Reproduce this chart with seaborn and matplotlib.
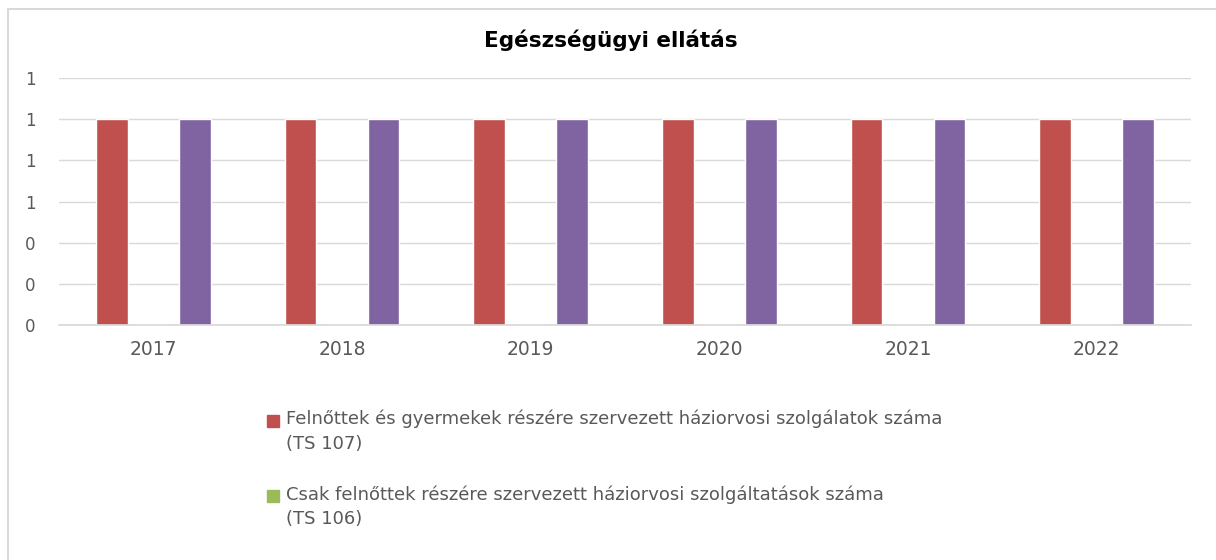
import pandas as pd
import matplotlib.pyplot as plt
import seaborn as sns
from matplotlib.patches import Rectangle
from matplotlib.ticker import FuncFormatter

# chart data
years = ['2017', '2018', '2019', '2020', '2021', '2022']
series_names = [
    'Felnőttek és gyermekek részére szervezett háziorvosi szolgálatok száma\n(TS 107)',
    'Csak felnőttek részére szervezett háziorvosi szolgáltatások száma\n(TS 106)',
    'Gyermekek részére szervezett háziorvosi szolgálatok száma',
]
felnott_gyermek = [1, 1, 1, 1, 1, 1]
csak_felnott = [0, 0, 0, 0, 0, 0]
gyermek = [1, 1, 1, 1, 1, 1]
colors = ['#C0504D', '#9BBB59', '#8064A2']
y_ticks = [0, 0.2, 0.4, 0.6, 0.8, 1.0, 1.2]

# long format for seaborn
data = pd.DataFrame({
    'year': years * 3,
    'series': [series_names[0]] * 6 + [series_names[1]] * 6 + [series_names[2]] * 6,
    'value': felnott_gyermek + csak_felnott + gyermek,
})

sns.set_theme(style='white')
plt.rcParams['font.family'] = ['DejaVu Sans']

fig = plt.figure(figsize=(12.16, 5.6), dpi=100)
ax = fig.add_axes([59 / 1216, 1 - 325 / 560, (1191 - 59) / 1216, (325 - 78) / 560])

sns.barplot(data=data, x='year', y='value', hue='series', palette=colors,
            width=0.66, gap=0.23, dodge=True, legend=False, ax=ax, saturation=1)

ax.set_ylim(0, 1.2)
ax.set_xlim(-0.5, len(years) - 0.5)
ax.set_yticks(y_ticks)
ax.yaxis.set_major_formatter(FuncFormatter(lambda v, p: f'{v:.0f}'))
ax.grid(axis='y', color='#D9D9D9', linewidth=1)
ax.set_axisbelow(True)
for s in ['top', 'right', 'left']:
    ax.spines[s].set_visible(False)
ax.spines['bottom'].set_color('#D9D9D9')
ax.tick_params(axis='y', length=0, pad=17, labelsize=12, labelcolor='#595959')
ax.tick_params(axis='x', length=0, pad=11, labelsize=13.5, labelcolor='#595959')
ax.set_xlabel('')
ax.set_ylabel('')

fig.text(611 / 1216, 1 - 40 / 560, 'Egészségügyi ellátás', ha='center', va='center',
         fontsize=15.5, fontweight='bold', color='black')

# legend (only the first two entries fit in the visible area)
leg_y = [421, 496]
for i in range(2):
    y = 1 - leg_y[i] / 560
    fig.patches.append(Rectangle((267 / 1216, y - 6 / 560), 12 / 1216, 12 / 560,
                                 transform=fig.transFigure, color=colors[i]))
    fig.text(286 / 1216, y + 11 / 560, series_names[i], ha='left', va='top',
             fontsize=13, color='#595959', linespacing=1.45)

# chart border
fig.patches.append(Rectangle((8 / 1216, -0.05), 1.1, 1 - 9 / 560 + 0.05,
                             transform=fig.transFigure, fill=False,
                             edgecolor='#D9D9D9', linewidth=1.5))

fig.savefig('out.png', dpi=100)
